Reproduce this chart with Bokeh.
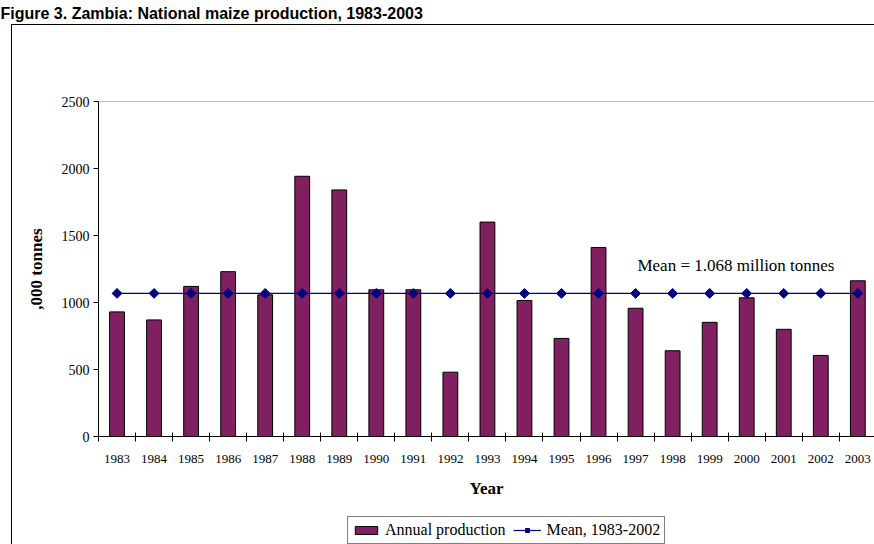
import math
from bokeh.plotting import figure
from bokeh.layouts import column
from bokeh.models import (ColumnDataSource, FixedTicker, Span, Label, Legend,
                          LegendItem, Title, InlineStyleSheet)
from bokeh.embed import file_html
from bokeh.resources import INLINE

# ---- data ----
years = [1983, 1984, 1985, 1986, 1987, 1988, 1989, 1990, 1991, 1992, 1993,
         1994, 1995, 1996, 1997, 1998, 1999, 2000, 2001, 2002, 2003]
production = [930, 870, 1120, 1230, 1057, 1942, 1840, 1095, 1095, 480, 1600,
              1015, 732, 1410, 957, 640, 852, 1035, 800, 605, 1162]
mean_1983_2002 = [1068, 1068, 1068, 1068, 1068, 1068, 1068, 1068, 1068, 1068, 1068,
                  1068, 1068, 1068, 1068, 1068, 1068, 1068, 1068, 1068, 1068]
y_ticks = [0, 500, 1000, 1500, 2000, 2500]
title_text = "Figure 3. Zambia: National maize production, 1983-2003"
mean_note = "Mean = 1.068 million tonnes"
bar_label = "Annual production"
line_label = "Mean, 1983-2002"

SERIF = "Liberation Serif"
BAR_COLOR = "#802060"
LINE_COLOR = "#000080"

src = ColumnDataSource(dict(year=years, prod=production, mean=mean_1983_2002))

p = figure(width=874, height=510, output_backend="svg", toolbar_location=None,
           x_range=(years[0] - 0.5, years[-1] + 0.45), y_range=(y_ticks[0], y_ticks[-1]),
           min_border_left=98, min_border_right=0, min_border_top=101,
           min_border_bottom=74)
p.outline_line_color = None
p.xgrid.visible = False
p.ygrid.visible = False

r_bar = p.vbar(x="year", top="prod", width=0.4, source=src,
               fill_color=BAR_COLOR, line_color="black", line_width=1)
r_line = p.line(x="year", y="mean", source=src, line_color=LINE_COLOR, line_width=1.2)
r_pts = p.scatter(x="year", y="mean", source=src, marker="square", angle=math.pi / 4,
                  size=7, fill_color=LINE_COLOR, line_color=LINE_COLOR)

# top border line of plot area
p.add_layout(Span(location=y_ticks[-1], dimension="width", line_color="#808080", line_width=1))

# y axis
ya = p.yaxis[0]
ya.ticker = FixedTicker(ticks=y_ticks)
ya.major_tick_in = 0
ya.major_tick_out = 5
ya.minor_tick_out = 0
ya.axis_line_color = "black"
ya.major_tick_line_color = "black"
ya.major_label_text_font = SERIF
ya.major_label_text_font_size = "14px"
ya.major_label_text_color = "black"
ya.major_label_standoff = 4
ya.axis_label = ",000 tonnes"
ya.axis_label_text_font = SERIF
ya.axis_label_text_font_style = "bold"
ya.axis_label_text_font_size = "17px"
ya.axis_label_text_color = "black"
ya.axis_label_standoff = 13

# x axis: labels at year centres, ticks between categories
xa = p.xaxis[0]
xa.ticker = FixedTicker(ticks=years, minor_ticks=[y - 0.5 for y in years] + [years[-1] + 0.5])
xa.major_tick_in = 0
xa.major_tick_out = 0
xa.minor_tick_in = 4
xa.minor_tick_out = 5
xa.minor_tick_line_color = "black"
xa.axis_line_color = "black"
xa.major_label_text_font = SERIF
xa.major_label_text_font_size = "13px"
xa.major_label_text_color = "black"
xa.major_label_standoff = 13
xa.axis_label = "Year"
xa.axis_label_text_font = SERIF
xa.axis_label_text_font_style = "bold"
xa.axis_label_text_font_size = "17px"
xa.axis_label_text_color = "black"
xa.axis_label_standoff = 13

# mean annotation
p.add_layout(Label(x=1997.05, y=1276, text=mean_note, text_font=SERIF,
                   text_font_size="17px", text_baseline="middle", text_color="black"))

# title at the very top: a blank spacer title next to the frame, then the real one
p.add_layout(Title(text=" ", text_font_size="13px", standoff=63), "above")
p.add_layout(Title(text=title_text, text_font="Liberation Sans", text_font_style="bold",
                   text_font_size="16px", text_color="black", align="left",
                   offset=-98, standoff=0), "above")

# legend strip below the chart (same series, drawn out of view, only for the key)
lf = figure(width=874, height=34, output_backend="svg", toolbar_location=None,
            x_range=(0, 1), y_range=(0, 1), min_border_left=0, min_border_right=0,
            min_border_top=0, min_border_bottom=0)
lf.axis.visible = False
lf.grid.visible = False
lf.outline_line_color = None
lb = lf.vbar(x="year", top="prod", width=0.4, source=src,
             fill_color=BAR_COLOR, line_color="black", line_width=1)
ll = lf.line(x="year", y="mean", source=src, line_color=LINE_COLOR, line_width=1.2)
ls = lf.scatter(x="year", y="mean", source=src, marker="square", angle=math.pi / 4,
                size=7, fill_color=LINE_COLOR, line_color=LINE_COLOR)

legend = Legend(items=[LegendItem(label=bar_label, renderers=[lb]),
                       LegendItem(label=line_label, renderers=[ll, ls])],
                orientation="horizontal", location=(249, 0))
legend.border_line_color = "black"
legend.border_line_width = 1
legend.background_fill_color = "white"
legend.background_fill_alpha = 1
legend.label_text_font = SERIF
legend.label_text_font_size = "16px"
legend.label_text_color = "black"
legend.glyph_width = 28
legend.glyph_height = 10
legend.padding = 4
legend.spacing = 8
legend.label_standoff = 5
legend.margin = 0
lf.add_layout(legend, "center")

layout = column(p, lf, spacing=0)
# chart-area border (left and top edges only are visible in the reference)
layout.stylesheets = [InlineStyleSheet(css=(
    ":host { position: relative; }"
    ":host::after { content: ''; position: absolute; left: 11px; top: 24px; right: 0; bottom: 0;"
    " border-left: 1px solid black; border-top: 1px solid black; pointer-events: none; }"
))]

open("out.html", "w").write(file_html(layout, INLINE))
